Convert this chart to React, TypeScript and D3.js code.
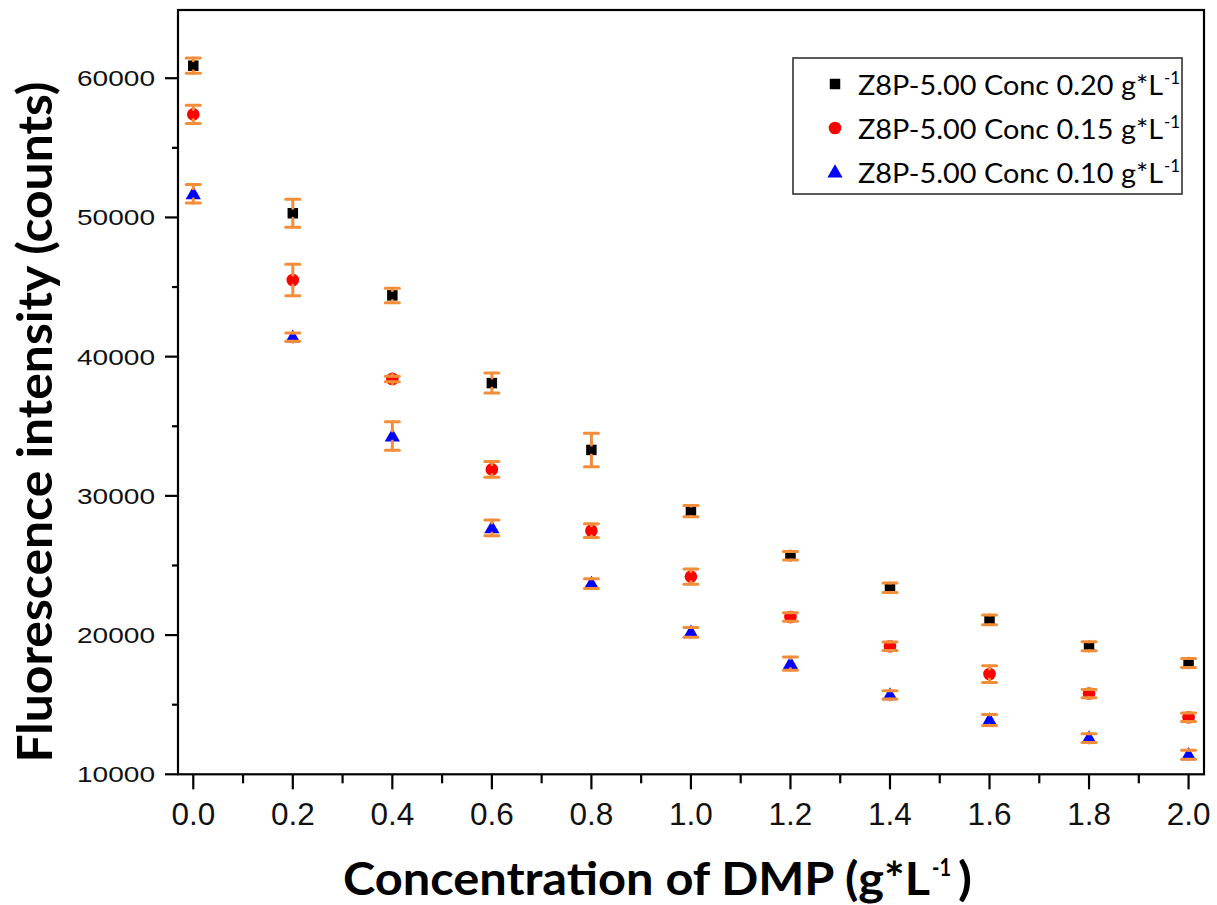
import React from "react";
import * as d3 from "d3";

const concentrations = [0, 0.2, 0.4, 0.6, 0.8, 1.0, 1.2, 1.4, 1.6, 1.8, 2.0];
const series020 = [60900, 50300, 44400, 38100, 33300, 28900, 25700, 23400, 21100, 19200, 18000];
const err020 = [550, 1000, 520, 720, 1200, 400, 300, 350, 350, 320, 320];
const series015 = [57400, 45500, 38400, 31900, 27500, 24200, 21300, 19200, 17200, 15800, 14100];
const err015 = [650, 1130, 200, 560, 490, 540, 300, 300, 600, 300, 300];
const series010 = [51700, 41400, 34300, 27700, 23700, 20200, 17950, 15700, 13900, 12600, 11400];
const err010 = [660, 300, 1030, 560, 350, 350, 480, 300, 400, 320, 320];
const legendLabels = ["Z8P-5.00 Conc 0.20 g*L", "Z8P-5.00 Conc 0.15 g*L", "Z8P-5.00 Conc 0.10 g*L"];
const xTicks = [0, 0.2, 0.4, 0.6, 0.8, 1.0, 1.2, 1.4, 1.6, 1.8, 2.0];
const xMinorTicks = [0.1, 0.3, 0.5, 0.7, 0.9, 1.1, 1.3, 1.5, 1.7, 1.9];
const yTicks = [10000, 20000, 30000, 40000, 50000, 60000];
const yMinorTicks = [15000, 25000, 35000, 45000, 55000];

const ORANGE = "#F28D3A";
const W = 1217, H = 905;
const L = 178, R = 1204, T = 10, B = 774.3;

function Marker({ kind, x, y }: { kind: string; x: number; y: number }) {
  if (kind === "square") {
    const sym = d3.symbol().type(d3.symbolSquare).size(110)();
    return <path d={sym!} transform={`translate(${x},${y})`} fill="#000" />;
  }
  if (kind === "circle") {
    const sym = d3.symbol().type(d3.symbolCircle).size(125)();
    return <path d={sym!} transform={`translate(${x},${y})`} fill="#FF0000" />;
  }
  const sym = d3.symbol().type(d3.symbolTriangle).size(100)();
  return <path d={sym!} transform={`translate(${x},${y + 1})`} fill="#0000FF" />;
}

export default function App() {
  const x = d3.scaleLinear().domain([-0.0307, 2.031]).range([L, R]);
  const y = d3.scaleLinear().domain([10000, 64900]).range([B, T]);

  const seriesList = [
    { vals: series020, errs: err020, kind: "square" },
    { vals: series015, errs: err015, kind: "circle" },
    { vals: series010, errs: err010, kind: "triangle" },
  ];

  const tickFont = "'Liberation Sans', Arial, sans-serif";
  const titleFont = "Lato, 'Open Sans', sans-serif";

  return (
    <svg width={W} height={H} style={{ position: "absolute", left: 0, top: 0, background: "#fff" }}>
      <rect x={0} y={0} width={W} height={H} fill="#fff" />
      {seriesList.map((s, si) =>
        s.vals.map((v, i) => <Marker key={`m${si}-${i}`} kind={s.kind} x={x(concentrations[i])} y={y(v)} />)
      )}
      {seriesList.map((s, si) =>
        s.vals.map((v, i) => {
          const cx = x(concentrations[i]);
          const y1 = y(v + s.errs[i]);
          const y2 = y(v - s.errs[i]);
          return (
            <g key={`e${si}-${i}`} stroke={ORANGE} strokeWidth={3} strokeLinecap="round">
              <line x1={cx} x2={cx} y1={y1} y2={y(v) - 5} />
              <line x1={cx} x2={cx} y1={y(v) + 5} y2={y2} />
              <line x1={cx - 7} x2={cx + 7} y1={y1} y2={y1} />
              <line x1={cx - 7} x2={cx + 7} y1={y2} y2={y2} />
            </g>
          );
        })
      )}
      <rect x={L} y={T} width={R - L} height={B - T} fill="none" stroke="#000" strokeWidth={2.2} />
      {yTicks.map((t) => (
        <g key={`yt${t}`}>
          <line x1={L - 13} x2={L} y1={y(t)} y2={y(t)} stroke="#000" strokeWidth={2.2} />
          <text x={155} y={y(t) + 8} textAnchor="end" fontFamily={tickFont} fontSize={22.5}
            textLength={78} lengthAdjust="spacingAndGlyphs" fill="#111">{t}</text>
        </g>
      ))}
      {yMinorTicks.map((t) => (
        <line key={`ym${t}`} x1={L - 6} x2={L} y1={y(t)} y2={y(t)} stroke="#000" strokeWidth={2.2} />
      ))}
      {xTicks.map((t) => (
        <g key={`xt${t}`}>
          <line x1={x(t)} x2={x(t)} y1={B} y2={B + 15} stroke="#000" strokeWidth={2.2} />
          <text x={x(t)} y={824.5} textAnchor="middle" fontFamily={tickFont} fontSize={31.5} fill="#111">
            {t.toFixed(1)}
          </text>
        </g>
      ))}
      {xMinorTicks.map((t) => (
        <line key={`xm${t}`} x1={x(t)} x2={x(t)} y1={B} y2={B + 9} stroke="#000" strokeWidth={2.2} />
      ))}
      <g fontFamily={titleFont} fontWeight={700} fill="#000">
        <text x={343} y={895} fontSize={46} textLength={587} lengthAdjust="spacingAndGlyphs">
          Concentration of DMP (g*L
        </text>
        <text x={932} y={876} fontSize={25} textLength={19} lengthAdjust="spacingAndGlyphs">-1</text>
        <text x={958} y={895} fontSize={46} textLength={14} lengthAdjust="spacingAndGlyphs">)</text>
      </g>
      <text transform="translate(52,422) rotate(-90)" textAnchor="middle" fontFamily={titleFont}
        fontWeight={700} fontSize={48} textLength={681} lengthAdjust="spacingAndGlyphs" fill="#000">
        Fluorescence intensity (counts)
      </text>
      <rect x={793} y={58} width={389} height={136} fill="#fff" stroke="#333" strokeWidth={1.6} />
      {legendLabels.map((lab, i) => {
        const base = 95 + i * 44;
        const kind = seriesList[i].kind;
        return (
          <g key={`lg${i}`}>
            <Marker kind={kind} x={835} y={base - 11} />
            <text x={858} y={base} fontFamily={titleFont} fontSize={27} textLength={305}
              lengthAdjust="spacingAndGlyphs" fill="#000">{lab}</text>
            <text x={1164} y={base - 11} fontFamily={titleFont} fontSize={17} fill="#000">-1</text>
          </g>
        );
      })}
    </svg>
  );
}
